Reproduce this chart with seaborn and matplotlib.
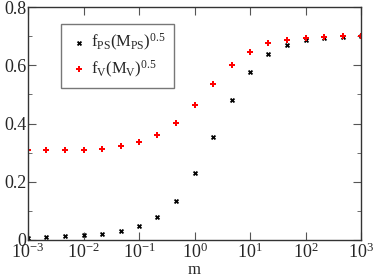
import numpy as np
import pandas as pd
import matplotlib
matplotlib.use('Agg')
import matplotlib.pyplot as plt
import seaborn as sns
from matplotlib.ticker import MultipleLocator, LogLocator, NullLocator, FuncFormatter

sns.set_style('ticks')
plt.rcParams['font.family'] = ['Liberation Serif', 'DejaVu Serif']
plt.rcParams['mathtext.fontset'] = 'custom'
plt.rcParams['mathtext.rm'] = 'Liberation Serif'
plt.rcParams['mathtext.it'] = 'Liberation Serif:italic'

# Datos
m = [0.001, 0.00215, 0.00464, 0.01, 0.0215, 0.0464, 0.1, 0.215, 0.464,
     1.0, 2.15, 4.64, 10.0, 21.5, 46.4, 100.0, 215.0, 464.0, 1000.0]
f_ps = [0.008, 0.009, 0.013, 0.016, 0.022, 0.032, 0.048, 0.079, 0.135,
        0.229, 0.353, 0.480, 0.577, 0.638, 0.670, 0.686, 0.694, 0.697, 0.701]
f_v = [0.309, 0.309, 0.309, 0.310, 0.314, 0.322, 0.337, 0.362, 0.403,
       0.464, 0.536, 0.601, 0.647, 0.675, 0.688, 0.694, 0.698, 0.700, 0.701]

df = pd.DataFrame({'m': m, 'ps': f_ps, 'v': f_v})

fig = plt.figure(figsize=(3.74, 2.78), dpi=100)
ax = fig.add_axes([0.0749, 0.1367, 0.8904, 0.8381])

sns.scatterplot(data=df, x='m', y='ps', ax=ax, color='black', marker='X',
                s=14, linewidth=0, label=r'f$_{\mathrm{PS}}$(M$_{\mathrm{PS}}$)$^{0.5}$')
sns.scatterplot(data=df, x='m', y='v', ax=ax, color='red', marker='P',
                s=24, linewidth=0, label=r'f$_{\mathrm{V}}$(M$_{\mathrm{V}}$)$^{0.5}$')

ax.set_xscale('log')
ax.set_xlim(1e-3, 1e3)
ax.set_ylim(0, 0.8)
ax.xaxis.set_major_locator(LogLocator(base=10, numticks=10))
ax.xaxis.set_minor_locator(NullLocator())
ax.yaxis.set_major_locator(MultipleLocator(0.2))
ax.yaxis.set_minor_locator(MultipleLocator(0.1))
ax.yaxis.set_major_formatter(FuncFormatter(lambda v, p: '0' if abs(v) < 1e-9 else f'{v:.1f}'))
ax.tick_params(which='both', direction='in', top=True, right=True,
               labelsize=13, color='#555555')
ax.tick_params(axis='y', pad=1)
ax.tick_params(axis='x', pad=2)
ax.tick_params(which='major', length=6)
ax.tick_params(which='minor', length=3)
for s in ax.spines.values():
    s.set_color('#333333')
    s.set_linewidth(1.0)

ax.set_xlabel('m', fontsize=12, labelpad=0)
ax.set_ylabel('')

leg = ax.legend(loc='upper left', bbox_to_anchor=(0.099, 0.927), borderaxespad=0,
                fontsize=12, frameon=True, fancybox=False, handletextpad=0.1,
                handlelength=1.2, borderpad=0.5, labelspacing=0.3)
leg.get_frame().set_edgecolor('#555555')
leg.get_frame().set_linewidth(1.0)

fig.savefig('out.png', dpi=100)
